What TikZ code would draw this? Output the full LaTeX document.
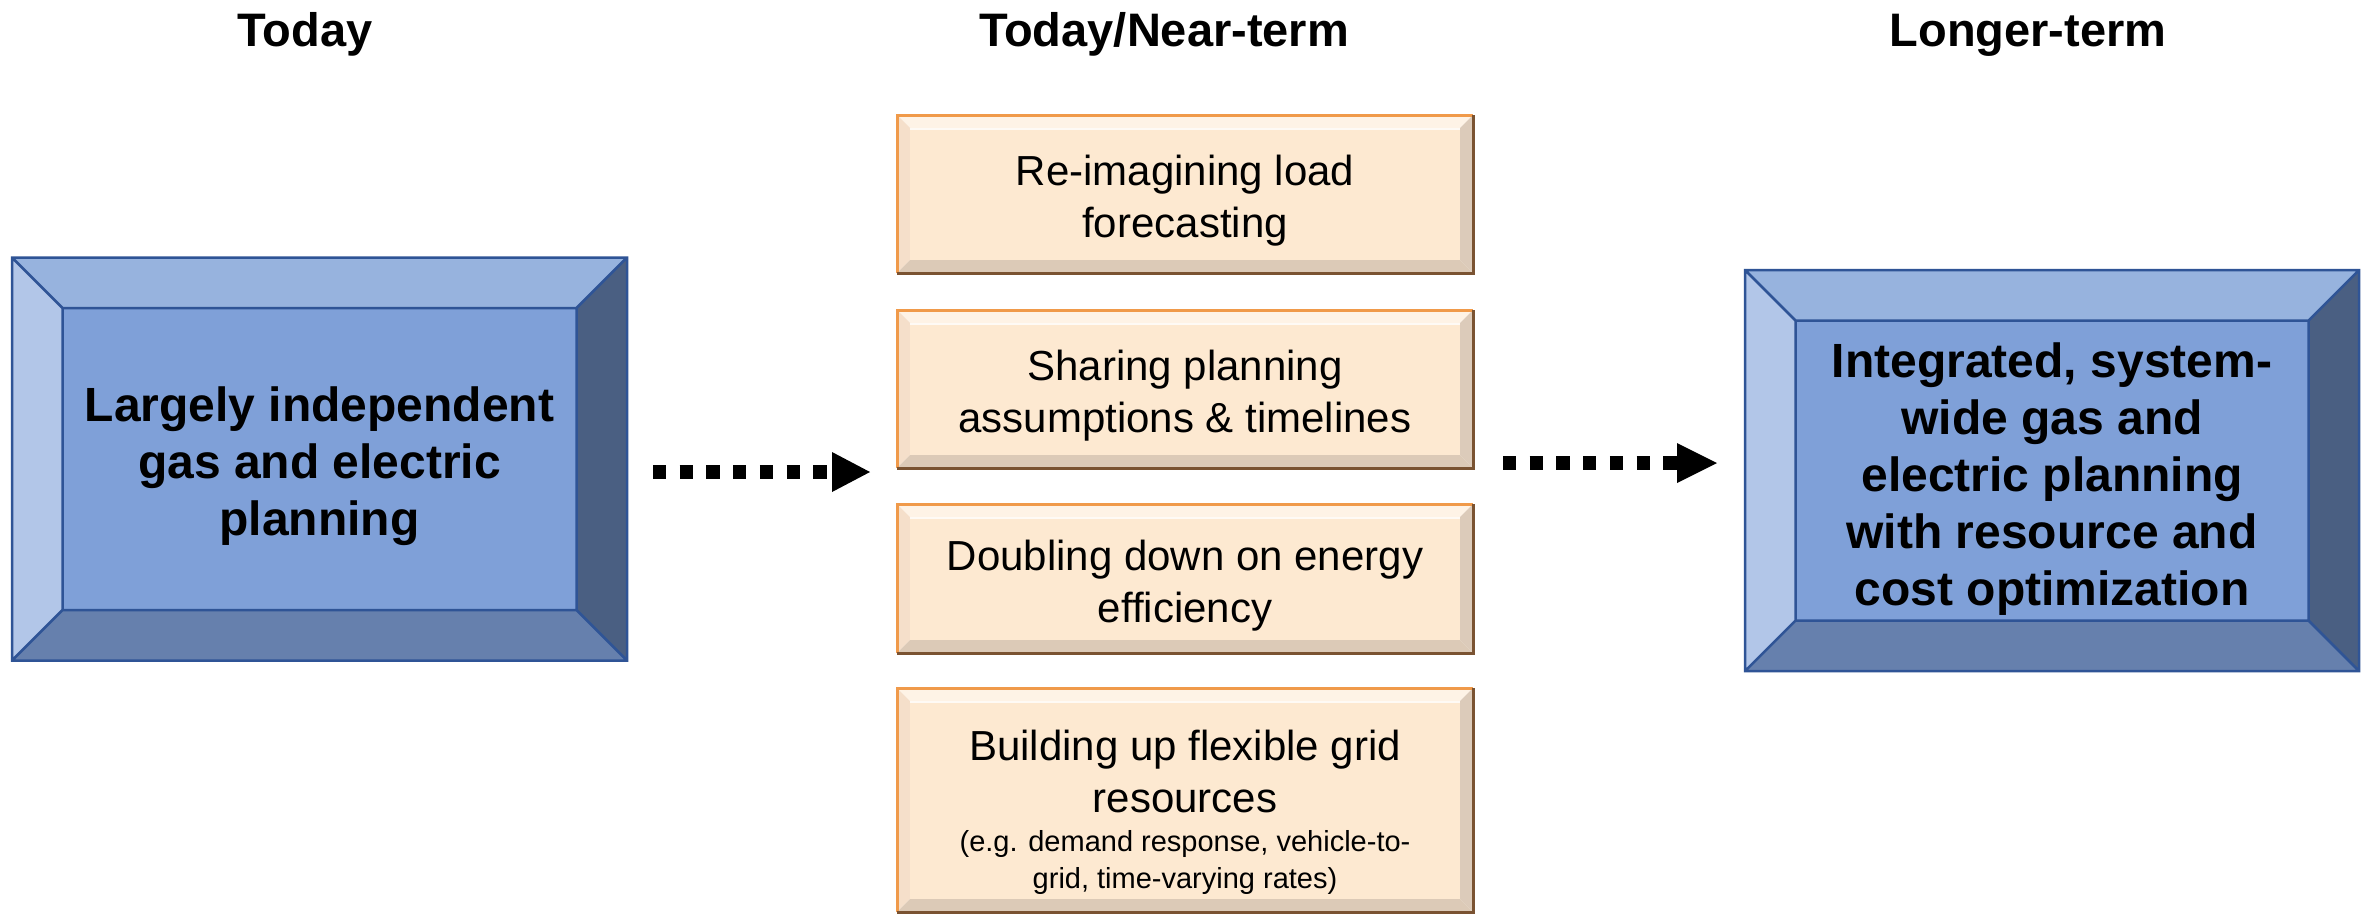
\documentclass[tikz,border=0pt]{standalone}
\usepackage{fontspec}
\setmainfont{Liberation Sans}
\usetikzlibrary{backgrounds,calc}

% blue bevelled frames
\definecolor{bTop}{HTML}{97B3DE}
\definecolor{bLeft}{HTML}{B2C6E8}
\definecolor{bRight}{HTML}{4A5F82}
\definecolor{bBottom}{HTML}{6680AD}
\definecolor{bFace}{HTML}{7FA0D8}
\definecolor{bEdge}{HTML}{2F5496}
% peach bevelled cards
\definecolor{pTop}{HTML}{FEF3E6}
\definecolor{pLeft}{HTML}{F5DFCA}
\definecolor{pRight}{HTML}{DCCBBA}
\definecolor{pBottom}{HTML}{DCCAB7}
\definecolor{pFace}{HTML}{FDE9D1}
\definecolor{pEdgeA}{HTML}{F09A4A}
\definecolor{pEdgeB}{HTML}{7A5332}

\tikzset{
  boxbase/.style={rectangle, inner sep=0pt, outer sep=0pt},
  txtbase/.style={inner sep=0pt, outer sep=0pt, align=center},
  bluetxt/.style={txtbase, font=\fontsize{48}{57}\selectfont\bfseries},
  peachtxt/.style={txtbase, font=\fontsize{42}{52}\selectfont},
  coltitle/.style={inner sep=0pt, anchor=base, font=\fontsize{47}{56}\selectfont\bfseries},
  dotline/.style={line width=13.3pt, dash pattern=on 13.3pt off 13.4pt}
}

% bevel faces of a node: name, bevel depth, top, left, right, bottom, face colours
\newcommand{\bevelfaces}[7]{%
  \coordinate (#1-inw) at ($(#1.north west)+(#2,#2)$);
  \coordinate (#1-ine) at ($(#1.north east)+(-#2,#2)$);
  \coordinate (#1-ise) at ($(#1.south east)+(-#2,-#2)$);
  \coordinate (#1-isw) at ($(#1.south west)+(#2,-#2)$);
  \fill[#3] (#1.north west) -- (#1.north east) -- (#1-ine) -- (#1-inw) -- cycle;
  \fill[#4] (#1.north west) -- (#1-inw) -- (#1-isw) -- (#1.south west) -- cycle;
  \fill[#5] (#1.north east) -- (#1.south east) -- (#1-ise) -- (#1-ine) -- cycle;
  \fill[#6] (#1.south west) -- (#1-isw) -- (#1-ise) -- (#1.south east) -- cycle;
  \fill[#7] (#1-inw) rectangle (#1-ise);
}
% blue frame: faces plus dark outlines
\newcommand{\blueframe}[1]{%
  \bevelfaces{#1}{50.5}{bTop}{bLeft}{bRight}{bBottom}{bFace}
  \draw[bEdge, line width=2.5pt, line join=miter]
    (#1.north west) rectangle (#1.south east)
    (#1-inw) rectangle (#1-ise)
    (#1.north west) -- (#1-inw) (#1.north east) -- (#1-ine)
    (#1.south east) -- (#1-ise) (#1.south west) -- (#1-isw);
}
% peach card: soft bevel with orange/brown rim
\newcommand{\peachcard}[1]{%
  \bevelfaces{#1}{13}{pTop}{pLeft}{pRight}{pBottom}{pFace}
  \draw[white, opacity=0.8, line width=2pt] ($(#1-inw)+(0,1)$) -- ($(#1-ine)+(0,1)$);
  \draw[pEdgeA, line width=3pt] (#1.south west) -- (#1.north west) -- (#1.north east);
  \draw[pEdgeB, line width=3pt] (#1.north east) -- (#1.south east) -- (#1.south west);
}

\begin{document}
\begin{tikzpicture}[x=1pt, y=-1pt]
  \useasboundingbox (0,0) rectangle (2369,914);

  % column headings
  \node[coltitle] (ttoday) at (305,46) {Today};
  \node[coltitle] (tnear)  at (1164,46) {Today/Near-term};
  \node[coltitle] (tlong)  at (2028,46) {Longer-term};

  % frames and cards
  \node[boxbase, minimum width=615pt, minimum height=403pt] (today) at (319.5,459) {};
  \node[boxbase, minimum width=576pt, minimum height=158pt] (near1) at (1185,194) {};
  \node[boxbase, minimum width=576pt, minimum height=158pt] (near2) at (1185,389) {};
  \node[boxbase, minimum width=576pt, minimum height=149pt] (near3) at (1185,578.5) {};
  \node[boxbase, minimum width=576pt, minimum height=224pt] (near4) at (1185,800) {};
  \node[boxbase, minimum width=614pt, minimum height=401pt] (longer) at (2052,470.5) {};

  \begin{scope}[on background layer]
    \fill[white] (0,0) rectangle (2369,914);
    \blueframe{today}
    \blueframe{longer}
    \peachcard{near1}
    \peachcard{near2}
    \peachcard{near3}
    \peachcard{near4}
  \end{scope}

  % texts inside
  \node[bluetxt] (today-t) at ($(today)+(0,7)$)
    {Largely independent\\gas and electric\\planning};
  \node[peachtxt] (near1-t) at ($(near1)+(0,7)$) {Re-imagining load\\forecasting};
  \node[peachtxt] (near2-t) at ($(near2)+(0,7)$) {Sharing planning\\assumptions \& timelines};
  \node[peachtxt] (near3-t) at ($(near3)+(0,7)$) {Doubling down on energy\\efficiency};
  \node[peachtxt] (near4-t) at ($(near4)+(0,12)$)
    {Building up flexible grid\\resources\\[-13pt]
     {\fontsize{29}{36}\selectfont (e.g. demand response, vehicle-to-}\\[-15pt]
     {\fontsize{29}{36}\selectfont grid, time-varying rates)}};
  \node[bluetxt] (longer-t) at ($(longer)+(0,9)$)
    {Integrated, system-\\wide gas and\\electric planning\\with resource and\\cost optimization};

  % dotted arrows between the columns
  \coordinate (a1s) at (653,472);
  \coordinate (a1e) at (832,472);
  \draw[dotline] (a1s) -- (a1e);
  \fill (a1e) ++(0,-20) -- ++(38,20) -- ++(-38,20) -- cycle;

  \coordinate (a2s) at (1503,463);
  \coordinate (a2e) at (1677,463);
  \draw[dotline] (a2s) -- (a2e);
  \fill (a2e) ++(0,-20) -- ++(40,20) -- ++(-40,20) -- cycle;
\end{tikzpicture}
\end{document}
